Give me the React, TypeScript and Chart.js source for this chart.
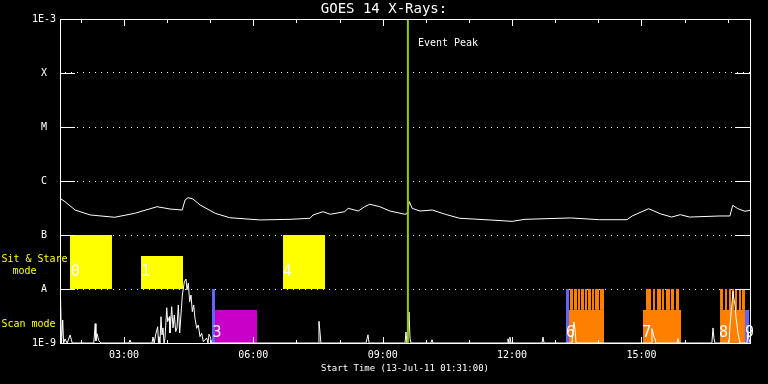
import React, { useEffect, useRef } from 'react';
import { Chart, registerables } from 'chart.js';

Chart.register(...registerables);

const MONO = "'DejaVu Sans Mono', monospace";

// x axis: minutes since 13-Jul-11 01:31:00
const xMaxMinutes = 960;
const xTickMinutes = [29, 89, 149, 209, 269, 329, 389, 449, 509, 569, 629, 689, 749, 809, 869, 929];
const xTickLabels = ['', '03:00', '', '', '06:00', '', '', '09:00', '', '', '12:00', '', '', '15:00', '', ''];

// y axis: GOES flux (W/m^2), log scale
const yTickValues = [1e-9, 1e-8, 1e-7, 1e-6, 1e-5, 1e-4, 1e-3];
const yTickLabels = ['1E-9', 'A', 'B', 'C', 'M', 'X', '1E-3'];

// long channel (1-8 A)
const longTimes = [
  0, 7, 21, 42, 76,
  104, 135, 153, 170, 174,
  178, 185, 195, 216, 236,
  278, 320, 348, 352, 366,
  376, 396, 401, 415, 424,
  431, 445, 459, 480, 483,
  486, 490, 501, 518, 536,
  556, 598, 629, 647, 710,
  751, 789, 796, 814, 819,
  835, 851, 863, 876, 918,
  932, 936, 943, 953, 960,
];
const longFlux = [
  4.78e-7, 4.14e-7, 2.9e-7, 2.35e-7, 2.13e-7,
  2.52e-7, 3.34e-7, 3.03e-7, 2.9e-7, 4.45e-7,
  4.91e-7, 4.64e-7, 3.59e-7, 2.52e-7, 2.09e-7,
  1.9e-7, 1.95e-7, 2.04e-7, 2.35e-7, 2.7e-7,
  2.42e-7, 2.7e-7, 3.12e-7, 2.78e-7, 3.34e-7,
  3.71e-7, 3.34e-7, 2.78e-7, 2.42e-7, 2.5e-7,
  4.14e-7, 3.12e-7, 2.78e-7, 2.9e-7, 2.42e-7,
  2.04e-7, 1.9e-7, 1.79e-7, 1.95e-7, 2.07e-7,
  1.92e-7, 1.92e-7, 2.25e-7, 2.87e-7, 3.07e-7,
  2.48e-7, 2.15e-7, 2.38e-7, 2.15e-7, 2.25e-7,
  2.25e-7, 3.55e-7, 3.07e-7, 2.75e-7, 2.87e-7,
];

// short channel (0.5-4 A)
const shortTimes = [
  0.7, 2, 3.8, 5, 7, 10, 14, 17,
  47, 49, 50, 51.5, 54, 57,
  96, 97.4, 99,
  128, 129.4, 131, 133.6, 135.9, 137, 137.7, 139.1, 140.5, 141.9,
  143.3, 144.7, 146.1, 148.5, 149.8, 152.3, 153, 155.4, 157.2, 159,
  161, 162.8, 164.6, 166.5, 168.3, 170.2, 173, 175.3, 176.7, 178.5,
  180.4, 182.3, 184.1, 186, 187.8, 190.2, 192.4, 194.8, 197.1, 199.4,
  204.1, 205.9, 207.3, 209.1, 211.1,
  359, 360.3, 361.7, 363, 425.7, 427.1, 428.5, 430,
  480, 481.4, 482.8, 485.6, 487, 488.4, 516, 517.6, 519,
  622, 623.3, 624.7, 626, 627.5, 670.6, 672, 673.4,
  712.3, 715, 716.5, 718, 822.3, 823.6, 826.4, 827.8, 829,
  858.4, 859.8, 861.2, 907, 908.5, 909.9, 911.3,
  930.8, 932.2, 934.3, 936.3, 937.7, 939.1, 940.5, 941.9, 943.3, 946.1,
  955.8, 957.2, 958.6, 960,
];
const shortFlux = [
  7.4e-9, 1e-9, 2.67e-9, 1e-9, 1.19e-9, 1e-9, 1.41e-9, 1e-9,
  1e-9, 2.28e-9, 1.1e-9, 1.49e-9, 1.1e-9, 1e-9,
  1e-9, 1.14e-9, 1e-9,
  1e-9, 1.29e-9, 1e-9, 1.53e-9, 2.0e-9, 1e-9, 1.31e-9, 1e-9, 3.07e-9, 1.41e-9,
  1.9e-9, 1e-9, 1.24e-9, 4.5e-9, 2.48e-9, 3.07e-9, 1.53e-9, 4.7e-9, 1.9e-9, 3.3e-9,
  1.62e-9, 1.9e-9, 5.06e-9, 1.53e-9, 3.3e-9, 7.74e-9, 1.36e-8, 1.53e-8, 9.6e-9, 1.28e-8,
  5.82e-9, 7.74e-9, 3.8e-9, 5.06e-9, 2.87e-9, 1.87e-9, 2.15e-9, 1.31e-9, 1.51e-9, 1.06e-9,
  1.24e-9, 1e-9, 1.45e-9, 1.31e-9, 1e-9,
  1e-9, 2.52e-9, 1.6e-9, 1e-9, 1e-9, 1.19e-9, 1.42e-9, 1e-9,
  1e-9, 1.6e-9, 1e-9, 3.75e-9, 1.2e-9, 1e-9, 1e-9, 1.15e-9, 1e-9,
  1e-9, 1.2e-9, 1e-9, 1.29e-9, 1e-9, 1e-9, 1.29e-9, 1e-9,
  1e-9, 2.45e-9, 1.8e-9, 1e-9, 1e-9, 1.84e-9, 1.3e-9, 1.2e-9, 1e-9,
  1e-9, 1.2e-9, 1e-9, 1e-9, 1.9e-9, 1.2e-9, 1e-9,
  1e-9, 2.15e-9, 4.5e-9, 9e-9, 6.5e-9, 5e-9, 3e-9, 2.15e-9, 1.5e-9, 1e-9,
  1e-9, 1.6e-9, 1.2e-9, 1e-9,
];

// observation blocks (minutes since start)
const sitStareStart = [13.9, 112.7, 310.3];
const sitStareEnd = [72.3, 171.1, 368.7];
const sitStareTop = [1e-7, 4.1e-8, 1e-7];
const sitStareBase = 1e-8;

const markerStart = [211.5, 704.0, 953.0];
const markerEnd = [215.7, 708.2, 958.6];
const markerTop = [1e-8, 1e-8, 4.1e-9];

const rasterStart = [215.7];
const rasterEnd = [274.1];
const rasterTop = [4.1e-9];

const scanStart = [708.2, 811.1, 918.3];
const scanEnd = [756.9, 864.0, 953.0];
const scanTop = [4.1e-9, 4.1e-9, 4.1e-9];

const stripeStart = [
  709.6, 715.1, 720.7, 724.9, 730.4, 734.6, 740.2, 744.3, 751.3,
  815.3, 825.0, 830.6, 837.6, 843.1, 850.1, 857.0,
  918.3, 925.2, 930.8, 934.9, 939.1, 944.7, 948.9,
];
const stripeEnd = [
  713.7, 719.3, 723.5, 729.0, 733.2, 738.8, 742.9, 749.9, 756.9,
  822.3, 827.8, 836.2, 840.3, 848.7, 854.3, 861.2,
  922.4, 928.0, 933.6, 937.7, 941.9, 947.5, 953.0,
];
const stripeTop = 1e-8;

const blockLabels = ['0', '1', '3', '4', '6', '7', '8', '9'];
const blockLabelTimes = [15, 113, 212, 310, 704, 810, 917, 953];
const blockLabelLevels = [2.07e-8, 2.07e-8, 1.53e-9, 2.07e-8, 1.53e-9, 1.53e-9, 1.53e-9, 1.53e-9];

const eventPeakTime = 484;

function rectPoints(starts: number[], ends: number[], tops: number[] | number) {
  const pts: { x: number; y: number | null }[] = [];
  starts.forEach((s, i) => {
    const top = Array.isArray(tops) ? tops[i] : tops;
    pts.push({ x: s, y: top }, { x: ends[i], y: top }, { x: ends[i], y: null });
  });
  return pts;
}

function blockDataset(label: string, pts: any[], color: string, base: number, order: number) {
  return {
    type: 'line' as const,
    label,
    data: pts,
    borderColor: 'transparent',
    borderWidth: 0,
    backgroundColor: color,
    fill: { value: base },
    pointRadius: 0,
    spanGaps: false,
    order,
  };
}

const overlayPlugin = {
  id: 'overlay',
  afterDatasetsDraw(chart: any) {
    const { ctx, chartArea } = chart;
    const { left, right, top, bottom } = chartArea;
    const xs = chart.scales.x;
    const ys = chart.scales.y;
    ctx.save();
    ctx.strokeStyle = '#fff';
    ctx.lineWidth = 1;
    ctx.setLineDash([]);
    const seg = (x1: number, y1: number, x2: number, y2: number) => {
      ctx.beginPath();
      ctx.moveTo(x1, y1);
      ctx.lineTo(x2, y2);
      ctx.stroke();
    };
    yTickValues.forEach((v, i) => {
      if (i === 0 || i === yTickValues.length - 1) return;
      const py = Math.round(ys.getPixelForValue(v)) + 0.5;
      seg(left, py, left + 15, py);
      seg(right - 15, py, right + 1, py);
    });
    xTickMinutes.forEach((m, i) => {
      const px = Math.round(xs.getPixelForValue(m)) + 0.5;
      const len = xTickLabels[i] ? 6 : 3;
      seg(px, bottom + 1, px, bottom - len);
      seg(px, top, px, top + len + 1);
    });
    ctx.strokeRect(left + 0.5, top + 0.5, right - left, bottom - top);

    ctx.fillStyle = '#fff';
    ctx.textBaseline = 'middle';
    ctx.textAlign = 'left';
    ctx.font = `15px ${MONO}`;
    blockLabels.forEach((lab, i) => {
      ctx.fillText(lab, xs.getPixelForValue(blockLabelTimes[i]), ys.getPixelForValue(blockLabelLevels[i]));
    });

    ctx.font = `10px ${MONO}`;
    ctx.fillText('Event Peak', xs.getPixelForValue(eventPeakTime) + 10, top + 24);

    ctx.fillStyle = '#ffff00';
    ctx.textAlign = 'center';
    const sitY = ys.getPixelForValue(Math.sqrt(1e-7 * 1e-8));
    ctx.fillText('Sit & Stare', 34.5, sitY - 3);
    ctx.fillText('mode', 24.5, sitY + 9);
    const scanY = ys.getPixelForValue(Math.sqrt(1e-8 * 1e-9));
    ctx.fillText('Scan mode', 28.5, scanY + 8);
    ctx.restore();
  },
};

export default function App() {
  const ref = useRef<HTMLCanvasElement>(null);

  useEffect(() => {
    const canvas = ref.current;
    if (!canvas) return;
    const n1 = Math.min(longTimes.length, longFlux.length);
    const n2 = Math.min(shortTimes.length, shortFlux.length);
    const longData = longTimes.slice(0, n1).map((t, i) => ({ x: t, y: longFlux[i] }));
    const shortData = shortTimes.slice(0, n2).map((t, i) => ({ x: t, y: shortFlux[i] }));

    const chart = new Chart(canvas, {
      type: 'line',
      data: {
        datasets: [
          {
            label: 'Event Peak',
            data: [
              { x: eventPeakTime, y: 1e-3 },
              { x: eventPeakTime, y: 1e-9 },
            ],
            borderColor: '#9acd00',
            borderWidth: 2,
            pointRadius: 0,
            fill: false,
            order: 0,
          },
          {
            label: 'GOES 1-8 A',
            data: longData,
            borderColor: '#ffffff',
            borderWidth: 1,
            pointRadius: 0,
            fill: false,
            tension: 0,
            order: 1,
          },
          {
            label: 'GOES 0.5-4 A',
            data: shortData,
            borderColor: '#ffffff',
            borderWidth: 1,
            pointRadius: 0,
            fill: false,
            tension: 0,
            order: 1,
          },
          blockDataset('Sit & Stare', rectPoints(sitStareStart, sitStareEnd, sitStareTop), '#ffff00', sitStareBase, 3),
          blockDataset('Marker', rectPoints(markerStart, markerEnd, markerTop), '#6464ff', 1e-9, 3),
          blockDataset('Raster', rectPoints(rasterStart, rasterEnd, rasterTop), '#c800c8', 1e-9, 3),
          blockDataset('Scan', rectPoints(scanStart, scanEnd, scanTop), '#ff8000', 1e-9, 3),
          blockDataset('Scan stripes', rectPoints(stripeStart, stripeEnd, stripeTop), '#ff8000', 4.1e-9, 3),
        ] as any,
      },
      options: {
        responsive: false,
        animation: false,
        devicePixelRatio: 1,
        events: [],
        layout: { padding: 0 },
        plugins: {
          legend: { display: false },
          tooltip: { enabled: false },
          title: {
            display: true,
            text: 'GOES 14 X-Rays:',
            color: '#ffffff',
            font: { family: MONO, size: 14, weight: 'normal' },
            padding: { top: 1, bottom: 1.2 },
          },
        },
        scales: {
          x: {
            type: 'linear',
            position: 'bottom',
            min: 0,
            max: xMaxMinutes,
            afterBuildTicks: (s: any) => {
              s.ticks = xTickMinutes.map((v) => ({ value: v }));
            },
            afterFit: (s: any) => {
              s.height = 41;
            },
            ticks: {
              autoSkip: false,
              maxRotation: 0,
              color: '#ffffff',
              padding: 6,
              font: { family: MONO, size: 10 },
              callback: (_v: any, i: number) => xTickLabels[i],
            },
            grid: { display: false, drawTicks: false },
            border: { display: false },
            title: {
              display: true,
              text: 'Start Time (13-Jul-11 01:31:00)',
              color: '#ffffff',
              font: { family: MONO, size: 9 },
              padding: { top: 0, bottom: 10 },
            },
          },
          y: {
            type: 'logarithmic',
            position: 'left',
            min: 1e-9,
            max: 1e-3,
            afterBuildTicks: (s: any) => {
              s.ticks = yTickValues.map((v) => ({ value: v }));
            },
            afterFit: (s: any) => {
              s.width = 60;
            },
            ticks: {
              autoSkip: false,
              color: '#ffffff',
              padding: 4,
              crossAlign: 'center',
              font: { family: MONO, size: 10 },
              callback: (_v: any, i: number) => yTickLabels[i],
            },
            grid: {
              drawTicks: false,
              lineWidth: 1,
              color: (c: any) =>
                c.index === 0 || c.index === yTickValues.length - 1 ? 'transparent' : '#ffffff',
            },
            border: { display: false, dash: [1, 5], dashOffset: 1 },
          },
          y2: {
            type: 'linear',
            position: 'right',
            display: true,
            afterFit: (s: any) => {
              s.width = 18;
            },
            ticks: { display: false },
            grid: { display: false, drawTicks: false },
            border: { display: false },
          },
        },
      } as any,
      plugins: [overlayPlugin],
    });
    return () => chart.destroy();
  }, []);

  return (
    <div style={{ position: 'fixed', left: 0, top: 0, width: 768, height: 384, background: '#000' }}>
      <canvas ref={ref} width={768} height={384} style={{ display: 'block' }} />
    </div>
  );
}
